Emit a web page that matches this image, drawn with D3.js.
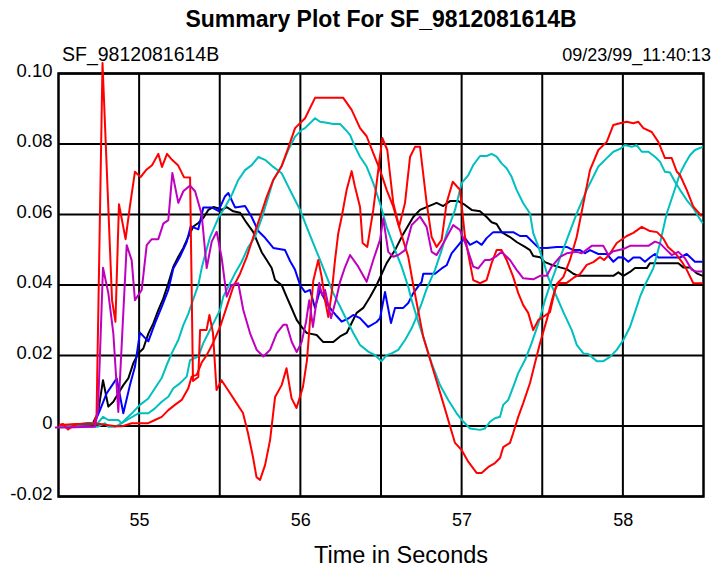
<!DOCTYPE html>
<html>
<head>
<meta charset="utf-8">
<script src="https://cdn.jsdelivr.net/npm/d3@7"></script>
<style>
  html, body { margin: 0; padding: 0; background: #fff; }
  svg { display: block; font-family: "Liberation Sans", Arial, sans-serif; }
</style>
</head>
<body>
<svg id="chart" width="715" height="569"></svg>
<script>
// ---------- data ----------
const title = "Summary Plot For SF_9812081614B";
const leftNote = "SF_9812081614B";
const rightNote = "09/23/99_11:40:13";
const xLabel = "Time in Seconds";
const xTickLabels = [55, 56, 57, 58];
const xGridValues = [55, 55.5, 56, 56.5, 57, 57.5, 58];
const yTickValues = [0.10, 0.08, 0.06, 0.04, 0.02, 0, -0.02];
const yTickLabels = ["0.10", "0.08", "0.06", "0.04", "0.02", "0", "-0.02"];

const blackSeries = [
  [54.503,0],[54.714,0.0009],[54.745,0.0037],[54.776,0.0130],[54.809,0.0055],[54.840,0.0069],
  [54.871,0.0093],[54.902,0.0116],[54.933,0.0135],[54.964,0.0178],[54.995,0.0206],[55.026,0.0220],
  [55.057,0.0262],[55.088,0.0291],[55.119,0.0329],[55.150,0.0362],[55.181,0.0405],[55.212,0.0452],
  [55.243,0.0480],[55.274,0.0505],[55.305,0.0537],[55.336,0.0566],[55.367,0.0576],[55.398,0.0590],
  [55.429,0.0613],[55.460,0.0621],[55.491,0.0618],[55.512,0.0613],[55.543,0.0621],[55.584,0.0609],
  [55.626,0.0605],[55.667,0.0576],[55.708,0.0550],[55.739,0.0516],[55.760,0.0493],[55.791,0.0471],
  [55.822,0.0448],[55.843,0.0414],[55.884,0.0400],[55.915,0.0366],[55.946,0.0334],[55.977,0.0301],
  [56.008,0.0281],[56.039,0.0264],[56.060,0.0262],[56.101,0.0258],[56.142,0.0238],[56.204,0.0238],
  [56.246,0.0254],[56.287,0.0264],[56.318,0.0292],[56.349,0.0321],[56.390,0.0335],[56.432,0.0366],
  [56.473,0.0400],[56.535,0.0462],[56.587,0.0499],[56.638,0.0545],[56.700,0.0593],[56.742,0.0613],
  [56.793,0.0623],[56.845,0.0633],[56.886,0.0624],[56.928,0.0638],[56.979,0.0638],[57.021,0.0627],
  [57.062,0.0613],[57.114,0.0609],[57.155,0.0593],[57.186,0.0578],[57.217,0.0573],[57.248,0.0550],
  [57.300,0.0536],[57.341,0.0522],[57.393,0.0508],[57.424,0.0499],[57.444,0.0482],[57.486,0.0479],
  [57.517,0.0465],[57.548,0.0459],[57.610,0.0450],[57.652,0.0445],[57.693,0.0432],[57.724,0.0426],
  [57.796,0.0426],[57.941,0.0426],[57.972,0.0436],[58.003,0.0426],[58.044,0.0437],[58.075,0.0448],
  [58.148,0.0448],[58.168,0.0462],[58.344,0.0462],[58.375,0.0450],[58.416,0.0450],[58.458,0.0433],
  [58.495,0.0426]
];

const blueSeries = [
  [54.503,0],[54.602,0.0003],[54.646,0.0003],[54.683,0],[54.726,0.0012],[54.757,0.0045],
  [54.799,0.0093],[54.861,0.0135],[54.902,0.0036],[54.943,0.0116],[54.974,0.0168],[55.005,0.0265],
  [55.057,0.0240],[55.098,0.0291],[55.140,0.0338],[55.181,0.0386],[55.212,0.0447],[55.253,0.0480],
  [55.295,0.0522],[55.320,0.0567],[55.367,0.0558],[55.398,0.0620],[55.450,0.0620],[55.491,0.0610],
  [55.533,0.0652],[55.553,0.0661],[55.595,0.0620],[55.657,0.0624],[55.698,0.0593],[55.739,0.0553],
  [55.781,0.0534],[55.832,0.0505],[55.905,0.0499],[55.936,0.0468],[55.967,0.0443],[55.998,0.0400],
  [56.029,0.0380],[56.060,0.0386],[56.091,0.0335],[56.122,0.0386],[56.163,0.0348],[56.194,0.0329],
  [56.225,0.0312],[56.256,0.0296],[56.297,0.0305],[56.328,0.0315],[56.370,0.0306],[56.421,0.0281],
  [56.473,0.0295],[56.494,0.0306],[56.525,0.0380],[56.562,0.0292],[56.587,0.0335],[56.638,0.0335],
  [56.669,0.0349],[56.700,0.0377],[56.752,0.0409],[56.762,0.0432],[56.835,0.0432],[56.876,0.0447],
  [56.907,0.0456],[56.938,0.0490],[56.990,0.0519],[57.021,0.0533],[57.052,0.0514],[57.093,0.0524],
  [57.124,0.0514],[57.155,0.0533],[57.196,0.0550],[57.320,0.0550],[57.362,0.0539],[57.403,0.0539],
  [57.476,0.0506],[57.528,0.0505],[57.590,0.0508],[57.652,0.0508],[57.693,0.0499],[57.734,0.0499],
  [57.765,0.0490],[57.796,0.0499],[57.848,0.0488],[57.900,0.0488],[57.941,0.0466],[57.972,0.0479],
  [58.003,0.0478],[58.034,0.0466],[58.065,0.0478],[58.106,0.0478],[58.137,0.0466],[58.168,0.0478],
  [58.199,0.0488],[58.220,0.0478],[58.354,0.0478],[58.396,0.0488],[58.447,0.0466],[58.495,0.0466]
];

const cyanSeriesA = [
  [54.503,0],[54.745,0.0009],[54.776,0.0026],[54.809,0.0017],[54.871,0.0017],[54.892,0.0008],
  [54.923,0.0022],[54.964,0.0040],[55.005,0.0060],[55.057,0.0078],[55.098,0.0107],[55.140,0.0136],
  [55.171,0.0173],[55.202,0.0206],[55.243,0.0244],[55.274,0.0286],[55.305,0.0318],[55.336,0.0360],
  [55.367,0.0400],[55.388,0.0448],[55.409,0.0485],[55.440,0.0536],[55.491,0.0590],[55.533,0.0621],
  [55.574,0.0655],[55.615,0.0698],[55.657,0.0726],[55.698,0.0740],[55.739,0.0763],[55.781,0.0755],
  [55.832,0.0735],[55.884,0.0717],[55.925,0.0679],[55.967,0.0641],[55.998,0.0613],[56.039,0.0565],
  [56.080,0.0518],[56.122,0.0471],[56.163,0.0424],[56.204,0.0377],[56.246,0.0339],[56.287,0.0301],
  [56.328,0.0264],[56.370,0.0230],[56.421,0.0211],[56.463,0.0201],[56.504,0.0184],[56.535,0.0201],
  [56.566,0.0206],[56.607,0.0216],[56.649,0.0244],[56.690,0.0277],[56.721,0.0310],[56.752,0.0348],
  [56.783,0.0389],[56.835,0.0443],[56.876,0.0499],[56.907,0.0547],[56.959,0.0613],[57.000,0.0689],
  [57.042,0.0712],[57.072,0.0740],[57.114,0.0766],[57.155,0.0766],[57.186,0.0772],[57.217,0.0764],
  [57.248,0.0745],[57.279,0.0731],[57.310,0.0707],[57.341,0.0670],[57.382,0.0632],[57.424,0.0603],
  [57.444,0.0547],[57.476,0.0509],[57.507,0.0467],[57.538,0.0420],[57.558,0.0398],[57.590,0.0366],
  [57.631,0.0323],[57.683,0.0272],[57.714,0.0230],[57.755,0.0206],[57.786,0.0204],[57.838,0.0184],
  [57.879,0.0184],[57.920,0.0196],[57.962,0.0216],[58.003,0.0244],[58.044,0.0281],[58.075,0.0323],
  [58.106,0.0366],[58.137,0.0400],[58.189,0.0448],[58.230,0.0518],[58.272,0.0603],[58.313,0.0659],
  [58.354,0.0716],[58.385,0.0744],[58.416,0.0768],[58.447,0.0783],[58.495,0.0792]
];

const cyanSeriesB = [
  [54.503,0],[54.745,-0.0002],[54.788,0.0008],[54.809,-0.0002],[54.853,-0.0002],[54.892,0.0008],
  [54.943,0.0022],[54.995,0.0036],[55.057,0.0036],[55.098,0.0050],[55.140,0.0069],[55.181,0.0083],
  [55.212,0.0107],[55.253,0.0121],[55.295,0.0140],[55.316,0.0187],[55.367,0.0197],[55.398,0.0235],
  [55.429,0.0263],[55.471,0.0301],[55.502,0.0329],[55.522,0.0367],[55.553,0.0395],[55.595,0.0433],
  [55.636,0.0466],[55.677,0.0508],[55.719,0.0537],[55.760,0.0589],[55.801,0.0650],[55.832,0.0698],
  [55.884,0.0738],[55.925,0.0783],[55.967,0.0821],[56.008,0.0840],[56.029,0.0845],[56.091,0.0873],
  [56.122,0.0863],[56.163,0.0860],[56.204,0.0857],[56.246,0.0857],[56.277,0.0842],[56.308,0.0826],
  [56.339,0.0792],[56.370,0.0764],[56.411,0.0736],[56.452,0.0689],[56.494,0.0632],[56.535,0.0565],
  [56.587,0.0499],[56.628,0.0452],[56.669,0.0395],[56.690,0.0357],[56.721,0.0310],[56.762,0.0253],
  [56.814,0.0178],[56.866,0.0116],[56.917,0.0074],[56.969,0.0036],[57.011,0.0012],[57.052,-0.0007],
  [57.114,-0.0011],[57.145,-0.0007],[57.176,0.0012],[57.207,0.0022],[57.238,0.0026],[57.258,0.0060],
  [57.289,0.0074],[57.320,0.0111],[57.351,0.0150],[57.393,0.0187],[57.434,0.0235],[57.476,0.0291],
  [57.517,0.0357],[57.548,0.0400],[57.590,0.0452],[57.652,0.0528],[57.714,0.0603],[57.776,0.0670],
  [57.848,0.0736],[57.900,0.0760],[57.941,0.0778],[57.982,0.0786],[58.013,0.0797],[58.055,0.0792],
  [58.086,0.0797],[58.117,0.0778],[58.158,0.0778],[58.199,0.0764],[58.230,0.0750],[58.261,0.0721],
  [58.292,0.0719],[58.323,0.0693],[58.354,0.0670],[58.396,0.0641],[58.437,0.0618],[58.468,0.0594],
  [58.495,0.0575]
];

const redSeriesBig = [
  [54.503,0.0003],[54.621,0.0006],[54.757,0.0006],[54.853,-0.0001],[54.892,-0.0001],[54.954,0.0008],
  [55.057,0.0008],[55.098,0.0017],[55.140,0.0026],[55.181,0.0045],[55.222,0.0060],[55.264,0.0074],
  [55.305,0.0107],[55.326,0.0140],[55.357,0.0145],[55.388,0.0180],[55.419,0.0201],[55.458,0.0235],
  [55.502,0.0281],[55.543,0.0338],[55.584,0.0395],[55.626,0.0432],[55.667,0.0479],[55.708,0.0536],
  [55.750,0.0593],[55.791,0.0650],[55.832,0.0698],[55.884,0.0737],[55.925,0.0789],[55.967,0.0845],
  [56.029,0.0873],[56.091,0.0931],[56.266,0.0931],[56.318,0.0897],[56.370,0.0845],[56.411,0.0822],
  [56.452,0.0774],[56.494,0.0726],[56.535,0.0670],[56.576,0.0622],[56.618,0.0556],[56.669,0.0480],
  [56.700,0.0400],[56.762,0.0253],[56.824,0.0159],[56.886,0.0065],[56.959,-0.0048],[57.000,-0.0068],
  [57.042,-0.0102],[57.093,-0.0133],[57.124,-0.0133],[57.166,-0.0116],[57.207,-0.0105],[57.238,-0.0091],
  [57.258,-0.0060],[57.300,-0.0048],[57.320,-0.0020],[57.351,0.0026],[57.382,0.0065],[57.424,0.0122],
  [57.455,0.0179],[57.486,0.0235],[57.528,0.0301],[57.560,0.0357],[57.590,0.0403],[57.631,0.0423],
  [57.672,0.0471],[57.714,0.0537],[57.755,0.0632],[57.796,0.0726],[57.848,0.0783],[57.900,0.0806],
  [57.941,0.0854],[57.982,0.0859],[58.024,0.0863],[58.065,0.0859],[58.096,0.0863],[58.127,0.0845],
  [58.179,0.0834],[58.220,0.0806],[58.261,0.0760],[58.303,0.0760],[58.334,0.0722],[58.354,0.0712],
  [58.396,0.0670],[58.437,0.0622],[58.489,0.0595]
];

const redSeriesSpiky = [
  [54.503,0.0003],[54.528,0.0006],[54.559,-0.0010],[54.584,-0.0002],[54.621,0.0006],[54.720,0.0006],
  [54.736,0.0031],[54.773,0.1030],[54.832,0.0357],[54.853,0.0296],[54.875,0.0629],[54.916,0.0530],
  [54.943,0.0624],[54.974,0.0721],[55.009,0.0706],[55.043,0.0726],[55.080,0.0740],[55.119,0.0772],
  [55.142,0.0735],[55.173,0.0772],[55.204,0.0755],[55.241,0.0740],[55.278,0.0706],[55.316,0.0705],
  [55.334,0.0128],[55.367,0.0139],[55.378,0.0272],[55.418,0.0272],[55.436,0.0315],[55.458,0.0264],
  [55.480,0.0102],[55.511,0.0130],[55.551,0.0102],[55.604,0.0065],[55.644,0.0037],[55.675,-0.0020],
  [55.706,-0.0088],[55.728,-0.0145],[55.750,-0.0153],[55.781,-0.0111],[55.812,-0.0040],[55.843,0.0082],
  [55.884,0.0116],[55.914,0.0164],[55.945,0.0079],[55.976,0.0051],[56.016,0.0111],[56.041,0.0187],
  [56.060,0.0301],[56.080,0.0412],[56.111,0.0471],[56.132,0.0423],[56.153,0.0357],[56.173,0.0309],
  [56.194,0.0377],[56.215,0.0471],[56.235,0.0547],[56.256,0.0593],[56.287,0.0670],[56.318,0.0723],
  [56.339,0.0678],[56.370,0.0621],[56.386,0.0519],[56.415,0.0508],[56.452,0.0613],[56.483,0.0726],
  [56.508,0.0817],[56.539,0.0783],[56.576,0.0633],[56.612,0.0565],[56.649,0.0633],[56.680,0.0763],
  [56.711,0.0792],[56.742,0.0792],[56.783,0.0633],[56.814,0.0536],[56.845,0.0508],[56.876,0.0528],
  [56.907,0.0633],[56.945,0.0693],[56.990,0.0670],[57.021,0.0536],[57.072,0.0414],[57.114,0.0405],
  [57.155,0.0414],[57.186,0.0462],[57.217,0.0499],[57.248,0.0499],[57.279,0.0471],[57.320,0.0423],
  [57.351,0.0377],[57.382,0.0343],[57.413,0.0321],[57.444,0.0272],[57.476,0.0301],[57.507,0.0310],
  [57.548,0.0323],[57.579,0.0386],[57.600,0.0406],[57.652,0.0406],[57.693,0.0420],[57.734,0.0431],
  [57.776,0.0457],[57.817,0.0465],[57.858,0.0479],[57.883,0.0471],[57.914,0.0485],[57.962,0.0519],
  [58.024,0.0539],[58.065,0.0548],[58.117,0.0565],[58.168,0.0553],[58.212,0.0550],[58.249,0.0533],
  [58.280,0.0508],[58.329,0.0488],[58.367,0.0465],[58.396,0.0443],[58.437,0.0405],[58.495,0.0405]
];

const magentaSeries = [
  [54.478,-0.0004],[54.559,-0.0004],[54.646,-0.0003],[54.726,-0.0002],[54.745,0.0045],[54.776,0.0449],
  [54.809,0.0377],[54.840,0.0263],[54.871,0.0040],[54.923,0.0513],[54.954,0.0470],[54.974,0.0357],
  [55.016,0.0386],[55.047,0.0513],[55.078,0.0530],[55.119,0.0530],[55.150,0.0574],[55.181,0.0584],
  [55.206,0.0718],[55.243,0.0633],[55.274,0.0666],[55.316,0.0682],[55.347,0.0666],[55.388,0.0600],
  [55.419,0.0448],[55.450,0.0523],[55.481,0.0551],[55.512,0.0477],[55.543,0.0367],[55.574,0.0400],
  [55.615,0.0405],[55.646,0.0329],[55.688,0.0263],[55.729,0.0216],[55.770,0.0197],[55.812,0.0216],
  [55.853,0.0263],[55.894,0.0287],[55.915,0.0287],[55.946,0.0239],[55.977,0.0210],[56.008,0.0238],
  [56.035,0.0295],[56.055,0.0357],[56.078,0.0281],[56.101,0.0357],[56.117,0.0406],[56.134,0.0372],
  [56.153,0.0386],[56.190,0.0306],[56.225,0.0366],[56.246,0.0409],[56.277,0.0451],[56.308,0.0485],
  [56.359,0.0452],[56.411,0.0409],[56.452,0.0471],[56.494,0.0528],[56.514,0.0589],[56.545,0.0494],
  [56.576,0.0480],[56.607,0.0485],[56.649,0.0499],[56.690,0.0570],[56.742,0.0594],[56.783,0.0565],
  [56.814,0.0494],[56.845,0.0485],[56.886,0.0518],[56.948,0.0570],[56.990,0.0556],[57.031,0.0509],
  [57.072,0.0452],[57.103,0.0447],[57.145,0.0471],[57.176,0.0471],[57.217,0.0482],[57.248,0.0494],
  [57.300,0.0471],[57.341,0.0443],[57.382,0.0419],[57.444,0.0416],[57.486,0.0426],[57.528,0.0426],
  [57.558,0.0452],[57.610,0.0480],[57.652,0.0490],[57.714,0.0494],[57.745,0.0490],[57.807,0.0511],
  [57.879,0.0511],[57.910,0.0485],[57.941,0.0496],[58.003,0.0502],[58.044,0.0511],[58.158,0.0511],
  [58.199,0.0523],[58.230,0.0518],[58.272,0.0499],[58.303,0.0485],[58.344,0.0494],[58.385,0.0476],
  [58.427,0.0443],[58.458,0.0438],[58.495,0.0438]
];

const seriesList = [
  { name: "black", data: blackSeries, color: "#000000" },
  { name: "blue", data: blueSeries, color: "#0000ff" },
  { name: "cyanA", data: cyanSeriesA, color: "#00bfbf" },
  { name: "cyanB", data: cyanSeriesB, color: "#00bfbf" },
  { name: "redBig", data: redSeriesBig, color: "#ff0000" },
  { name: "redSpiky", data: redSeriesSpiky, color: "#ff0000" },
  { name: "magenta", data: magentaSeries, color: "#bf00bf" }
];

// ---------- layout ----------
const svg = d3.select("#chart");
const plot = { left: 58.5, right: 703.5, top: 73.5, bottom: 496.5 };

const x = d3.scaleLinear().domain([54.5, 58.5]).range([plot.left, plot.right]);
const y = d3.scaleLinear().domain([-0.02, 0.10]).range([plot.bottom, plot.top]);

// gridlines
const grid = svg.append("g").attr("stroke", "#000").attr("stroke-width", 2);
grid.selectAll("line.vx").data(xGridValues).join("line")
  .attr("x1", d => x(d)).attr("x2", d => x(d))
  .attr("y1", plot.top).attr("y2", plot.bottom);
grid.selectAll("line.hy").data(yTickValues).join("line")
  .attr("x1", plot.left).attr("x2", plot.right)
  .attr("y1", d => y(d)).attr("y2", d => y(d));

// frame
svg.append("rect")
  .attr("x", plot.left).attr("y", plot.top)
  .attr("width", plot.right - plot.left).attr("height", plot.bottom - plot.top)
  .attr("fill", "none").attr("stroke", "#000").attr("stroke-width", 2.5);

// axes labels via d3 axes
const yAxis = d3.axisLeft(y).tickValues(yTickValues)
  .tickFormat((d, i) => yTickLabels[i]).tickSize(0).tickPadding(6);
const gy = svg.append("g").attr("transform", `translate(${plot.left},-3)`).call(yAxis);
gy.select(".domain").remove();
gy.selectAll("text").attr("font-size", 18.5).attr("fill", "#000")
  .attr("font-family", "'Liberation Sans', Arial, sans-serif");

const xAxis = d3.axisBottom(x).tickValues(xTickLabels).tickFormat(d3.format("d"))
  .tickSize(0).tickPadding(17);
const gx = svg.append("g").attr("transform", `translate(0,${plot.bottom})`).call(xAxis);
gx.select(".domain").remove();
gx.selectAll("text").attr("font-size", 18).attr("fill", "#000")
  .attr("font-family", "'Liberation Sans', Arial, sans-serif");

// lines
const line = d3.line().x(d => x(d[0])).y(d => y(d[1]));
svg.append("g").selectAll("path").data(seriesList).join("path")
  .attr("d", s => line(s.data))
  .attr("fill", "none")
  .attr("stroke", s => s.color)
  .attr("stroke-width", 2)
  .attr("stroke-linejoin", "round");

// texts
svg.append("text").attr("x", 381).attr("y", 27)
  .attr("text-anchor", "middle").attr("font-size", 23).attr("font-weight", "bold")
  .text(title);
svg.append("text").attr("x", 62).attr("y", 61)
  .attr("font-size", 19.5).text(leftNote);
svg.append("text").attr("x", 711).attr("y", 61)
  .attr("text-anchor", "end").attr("font-size", 18).text(rightNote);
svg.append("text").attr("x", 401).attr("y", 563)
  .attr("text-anchor", "middle").attr("font-size", 23.5).text(xLabel);
</script>
</body>
</html>
